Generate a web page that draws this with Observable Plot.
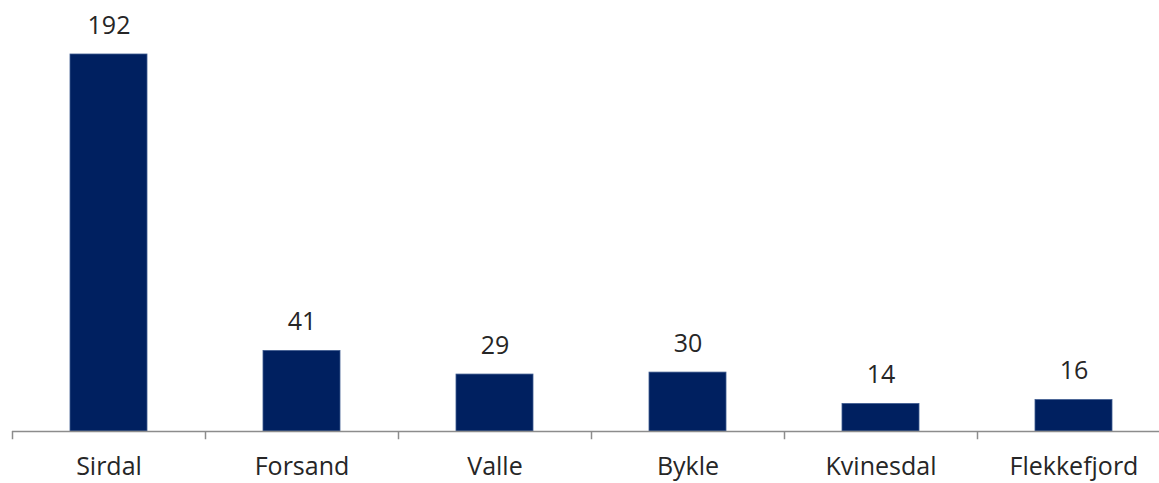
<!DOCTYPE html>
<html>
<head>
<meta charset="utf-8">
<script src="https://cdn.jsdelivr.net/npm/d3@7"></script>
<script src="https://cdn.jsdelivr.net/npm/@observablehq/plot@0.6"></script>
<style>
  html, body { margin: 0; padding: 0; background: #fff; }
  svg { display: block; }
</style>
</head>
<body>
<div id="chart"></div>
<script>
const categories = ["Sirdal", "Forsand", "Valle", "Bykle", "Kvinesdal", "Flekkefjord"];
const values = [192, 41, 29, 30, 14, 16];

const data = categories.map((c, i) => ({category: c, value: values[i]}));

const W = 1159, H = 483;
const mLeft = 12, mRight = -11;
const band = (W - mLeft - mRight) / categories.length;

const chart = Plot.plot({
  width: W,
  height: H,
  marginLeft: mLeft,
  marginRight: mRight,
  marginTop: 54,
  marginBottom: 52,
  style: {fontFamily: "'Open Sans', sans-serif", background: "#fff", color: "#262626"},
  x: {domain: categories, paddingInner: 0.6, paddingOuter: 0.3, align: 0.5, label: null},
  y: {domain: [0, 192], axis: null},
  marks: [
    Plot.barY(data, {x: "category", y: "value", fill: "#002060", stroke: "#3d5a8f", strokeWidth: 0.8}),
    Plot.ruleY([0], {stroke: "#8c8c8c", strokeWidth: 1.5}),
    Plot.ruleX(categories, {x: d => d, y1: 0, y2: -4.2, dx: -band / 2, stroke: "#8c8c8c", strokeWidth: 1.5}),
    Plot.text(data, {x: "category", y: "value", text: d => String(d.value), dy: -29, fontSize: 25, fill: "#262626"}),
    Plot.axisX({tickSize: 0, tickPadding: 26, fontSize: 25, fill: "#262626", label: null})
  ]
});
document.getElementById("chart").appendChild(chart);
</script>
</body>
</html>
